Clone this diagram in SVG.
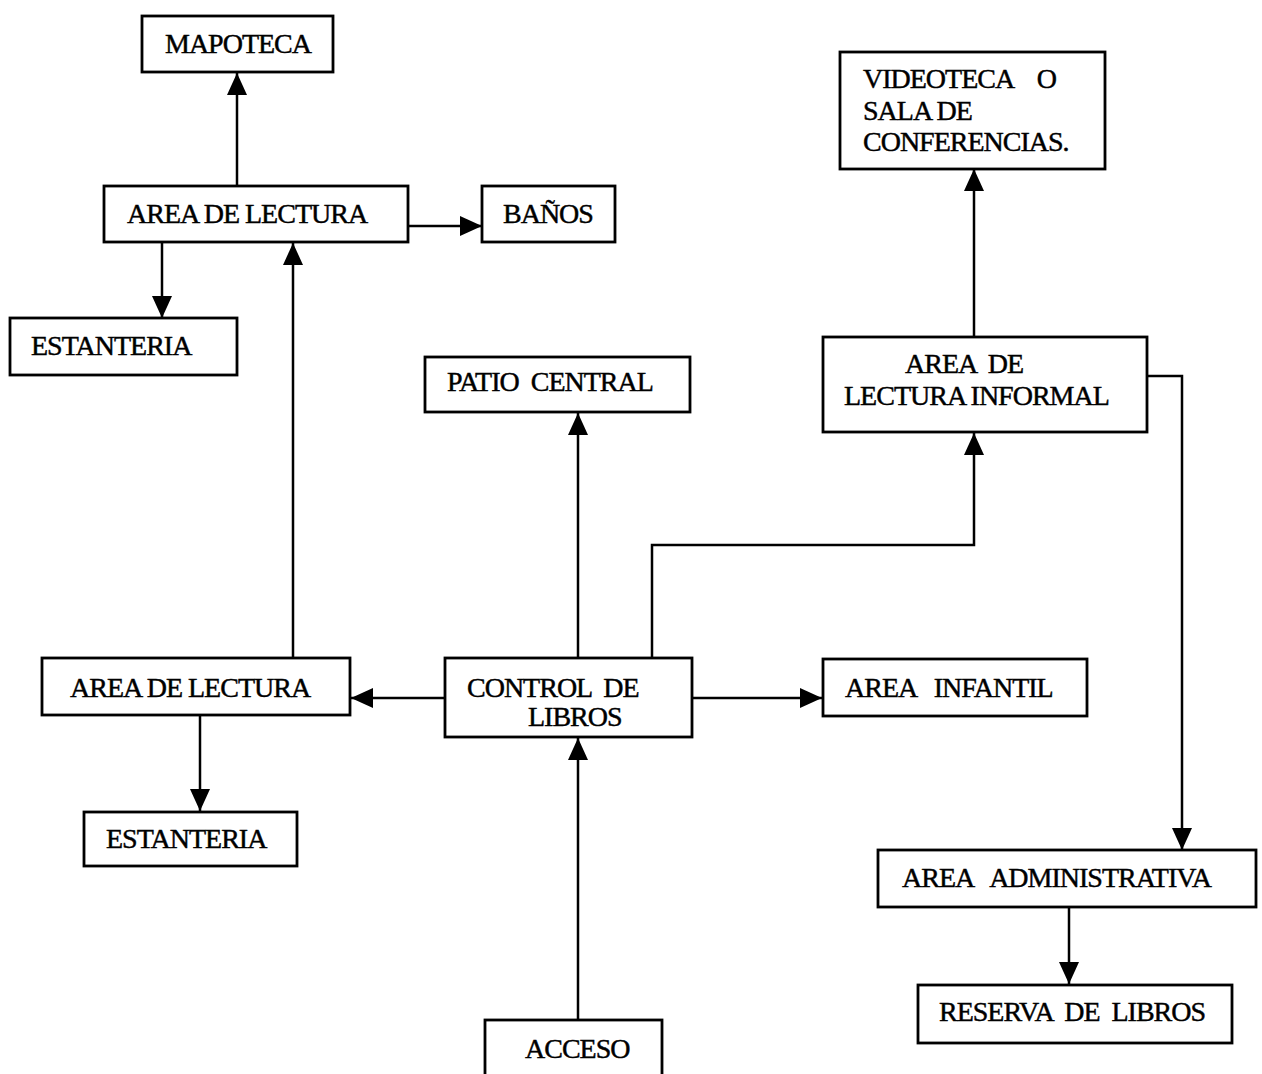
<svg xmlns="http://www.w3.org/2000/svg" width="1262" height="1074" viewBox="0 0 1262 1074">
<style>
rect{fill:#fff;stroke:#000;stroke-width:2.8}
text{font-family:"Liberation Serif","Times New Roman",serif;font-size:28px;fill:#000;stroke:#000;stroke-width:0.45;letter-spacing:-1px}
.c{fill:none;stroke:#000;stroke-width:2.5}
</style>
<defs>
<marker id="a" markerUnits="userSpaceOnUse" markerWidth="23" markerHeight="20" refX="22" refY="10" orient="auto"><path d="M0,0 L22,10 L0,20 z" fill="#000"/></marker>
</defs>
<rect x="0" y="0" width="1262" height="1074" style="fill:#fff;stroke:none"/>
<g id="connectors">
<path class="c" d="M237,186 V73" marker-end="url(#a)"/>
<path class="c" d="M408,226 H482" marker-end="url(#a)"/>
<path class="c" d="M162,242 V318" marker-end="url(#a)"/>
<path class="c" d="M293,658 V243" marker-end="url(#a)"/>
<path class="c" d="M974,337 V169" marker-end="url(#a)"/>
<path class="c" d="M1147,376 H1182 V850" marker-end="url(#a)"/>
<path class="c" d="M578,658 V413" marker-end="url(#a)"/>
<path class="c" d="M652,658 V545 H974 V433" marker-end="url(#a)"/>
<path class="c" d="M445,698 H351" marker-end="url(#a)"/>
<path class="c" d="M692,698 H822" marker-end="url(#a)"/>
<path class="c" d="M200,715 V811" marker-end="url(#a)"/>
<path class="c" d="M578,1020 V738" marker-end="url(#a)"/>
<path class="c" d="M1069,907 V984" marker-end="url(#a)"/>
</g>
<g id="mapoteca"><rect x="142" y="16" width="191" height="56"/><text x="165" y="53">MAPOTECA</text></g>
<g id="area-lectura-1"><rect x="104" y="186" width="304" height="56"/><text x="127" y="223">AREA DE LECTURA</text></g>
<g id="banos"><rect x="482" y="186" width="133" height="56"/><text x="503" y="223">BAÑOS</text></g>
<g id="estanteria-1"><rect x="10" y="318" width="227" height="57"/><text x="31" y="355">ESTANTERIA</text></g>
<g id="patio-central"><rect x="425" y="357" width="265" height="55"/><text x="447" y="391" xml:space="preserve">PATIO  CENTRAL</text></g>
<g id="videoteca"><rect x="840" y="52" width="265" height="117"/><text x="863" y="88" xml:space="preserve">VIDEOTECA    O</text><text x="863" y="120">SALA DE</text><text x="863" y="151">CONFERENCIAS.</text></g>
<g id="lectura-informal"><rect x="823" y="337" width="324" height="95"/><text x="905" y="373" xml:space="preserve">AREA  DE</text><text x="844" y="405">LECTURA INFORMAL</text></g>
<g id="area-lectura-2"><rect x="42" y="658" width="308" height="57"/><text x="70" y="697">AREA DE LECTURA</text></g>
<g id="control-libros"><rect x="445" y="658" width="247" height="79"/><text x="467" y="697" xml:space="preserve">CONTROL  DE</text><text x="528" y="726">LIBROS</text></g>
<g id="area-infantil"><rect x="823" y="659" width="264" height="57"/><text x="845" y="697" xml:space="preserve">AREA   INFANTIL</text></g>
<g id="estanteria-2"><rect x="84" y="812" width="213" height="54"/><text x="106" y="848">ESTANTERIA</text></g>
<g id="area-administrativa"><rect x="878" y="850" width="378" height="57"/><text x="902" y="887" xml:space="preserve">AREA   ADMINISTRATIVA</text></g>
<g id="reserva-libros"><rect x="918" y="985" width="314" height="58"/><text x="939" y="1021" xml:space="preserve">RESERVA  DE  LIBROS</text></g>
<g id="acceso"><rect x="485" y="1020" width="177" height="70"/><text x="525" y="1058">ACCESO</text></g>
</svg>
